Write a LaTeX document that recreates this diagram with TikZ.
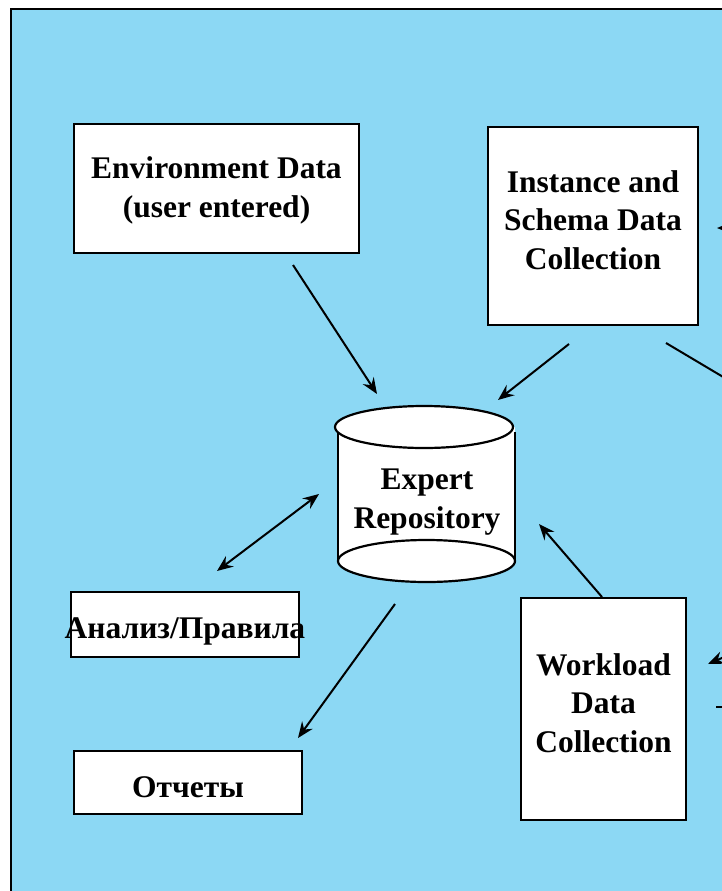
\documentclass[tikz,border=0pt]{standalone}
\usepackage{fontspec}
\setmainfont{Liberation Serif}
\usetikzlibrary{arrows.meta}
\definecolor{bgblue}{HTML}{8CD8F4}
\begin{document}
\begin{tikzpicture}[x=1pt,y=-1pt,
  box/.style={draw=black,line width=2.4pt,fill=white,rectangle,inner sep=0pt,align=center,
    font=\fontsize{31.5}{38.5}\selectfont\bfseries},
  conn/.style={line width=2pt,-{Stealth[length=16pt,width=13pt,inset=5.5pt]}},
  dconn/.style={line width=2pt,{Stealth[length=16pt,width=13pt,inset=5.5pt]}-{Stealth[length=16pt,width=13pt,inset=5.5pt]}},
  plain/.style={line width=2pt}]
\useasboundingbox (0,0) rectangle (722,891);
\clip (0,0) rectangle (722,891);
\fill[white] (0,0) rectangle (722,891);
\draw[fill=bgblue,line width=2.4pt] (11,9) rectangle (740,910);

% boxes
\node[box,minimum width=285pt,minimum height=129pt] (env) at (216.5,188.5)
  {\raisebox{-2pt}[\height][\depth]{\begin{tabular}{@{}c@{}}Environment Data\\(user entered)\end{tabular}}};
\node[box,minimum width=210pt,minimum height=198pt] (inst) at (593,226)
  {\raisebox{3pt}[\height][\depth]{\begin{tabular}{@{}c@{}}Instance and\\Schema Data\\Collection\end{tabular}}};
\node[box,minimum width=165pt,minimum height=222pt] (work) at (603.5,709)
  {\raisebox{3pt}[\height][\depth]{\begin{tabular}{@{}c@{}}Workload\\Data\\Collection\end{tabular}}};
\node[box,minimum width=228pt,minimum height=65pt] (anal) at (185,624.5)
  {\raisebox{-7pt}[\height][\depth]{\makebox[0pt]{Анализ/Правила}}};
\node[box,minimum width=228pt,minimum height=63pt] (otch) at (188,782.5)
  {\raisebox{-5pt}[\height][\depth]{Отчеты}};

% cylinder
\fill[white] (338,427) rectangle (515,561);
\draw[line width=2.2pt] (338,432) -- (338,561) (515,432) -- (515,561);
\draw[line width=2.2pt,fill=white] (426.5,561) ellipse [x radius=88.5pt,y radius=21pt];
\draw[line width=2.2pt,fill=white] (424,427) ellipse [x radius=89pt,y radius=21pt];
\node[align=center,inner sep=0pt,font=\fontsize{31.5}{38.5}\selectfont\bfseries] (repo) at (427,502) {Expert\\Repository};

% connector end points
\coordinate (a1s) at (293,265);  \coordinate (a1e) at (377,394);
\coordinate (a2s) at (569,344);  \coordinate (a2e) at (498,400);
\coordinate (a3s) at (319,494);  \coordinate (a3e) at (217,571);
\coordinate (a4s) at (395,604);  \coordinate (a4e) at (298,738);
\coordinate (a5s) at (602,597);  \coordinate (a5e) at (539,524);
\coordinate (r1s) at (750,228);  \coordinate (r1e) at (717,228);
\coordinate (r2s) at (666,343);  \coordinate (r2e) at (740,387);
\coordinate (r3s) at (745,648);  \coordinate (r3e) at (708,664);
\coordinate (r4s) at (716,707);  \coordinate (r4e) at (740,707);

\draw[conn] (a1s) -- (a1e);
\draw[conn] (a2s) -- (a2e);
\draw[dconn] (a3s) -- (a3e);
\draw[conn] (a4s) -- (a4e);
\draw[conn] (a5s) -- (a5e);
\draw[conn] (r1s) -- (r1e);
\draw[plain] (r2s) -- (r2e);
\draw[conn] (r3s) -- (r3e);
\draw[plain] (r4s) -- (r4e);
\end{tikzpicture}
\end{document}
